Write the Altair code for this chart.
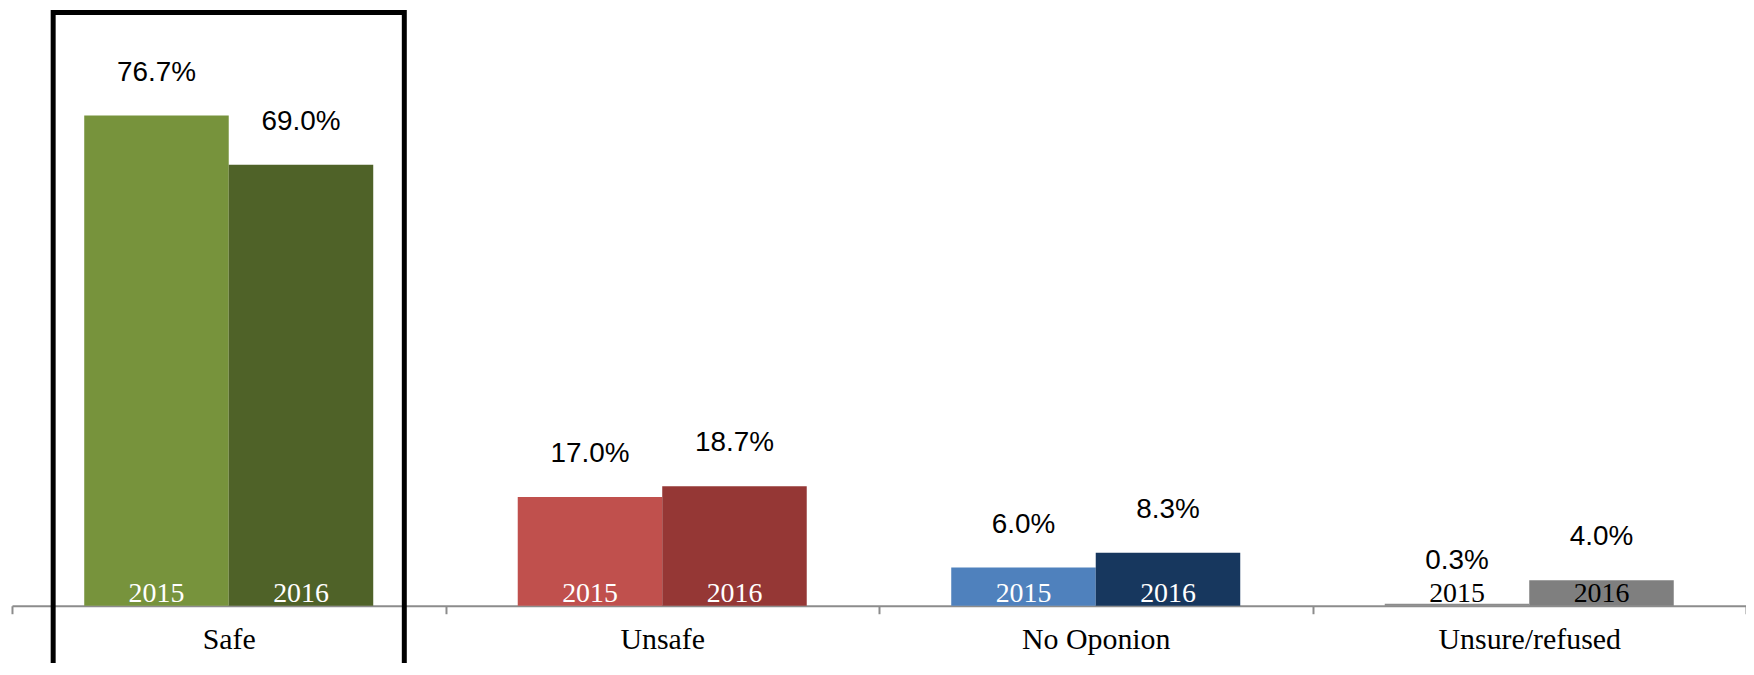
import altair as alt
import pandas as pd

categories = ["Safe", "Unsafe", "No Oponion", "Unsure/refused"]
years = ["2015", "2016"]
values_2015 = [76.7, 17.0, 6.0, 0.3]
values_2016 = [69.0, 18.7, 8.3, 4.0]
colors_2015 = ["#77933c", "#c0504d", "#4f81bd", "#8c8c8c"]
colors_2016 = ["#4f6228", "#953735", "#17375e", "#7f7f7f"]
highlighted = ["Safe"]

rows = []
keys, colors = [], []
for i, c in enumerate(categories):
    for y, vals, cols in ((years[0], values_2015, colors_2015), (years[1], values_2016, colors_2016)):
        key = f"{c} {y}"
        rows.append({"category": c, "year": y, "value": vals[i], "key": key,
                     "label": f"{vals[i]:.1f}%", "zero": 0})
        keys.append(key)
        colors.append(cols[i])
df = pd.DataFrame(rows)
box_df = pd.DataFrame({"category": highlighted})

W, H = 1742, 578

x_enc = alt.X("category:N", sort=categories,
              scale=alt.Scale(paddingInner=0, paddingOuter=0),
              axis=alt.Axis(title=None, labelAngle=0, labelFont="Liberation Serif",
                            labelFontSize=30, labelColor="black", labelLimit=0,
                            domainColor="#8c8c8c", domainWidth=2,
                            tickColor="#8c8c8c", tickWidth=2, tickSize=8,
                            tickBand="extent", labelPadding=11))
xo_enc = alt.XOffset("year:N", sort=years, scale=alt.Scale(paddingOuter=0.5, paddingInner=0))
y_scale = alt.Scale(domain=[0, 90])

bars = alt.Chart(df).mark_bar().encode(
    x=x_enc, xOffset=xo_enc,
    y=alt.Y("value:Q", scale=y_scale, axis=None),
    color=alt.Color("key:N", scale=alt.Scale(domain=keys, range=colors), legend=None),
)

pct = alt.Chart(df).mark_text(font="Liberation Sans", fontSize=28, color="black",
                               baseline="middle", dy=-43).encode(
    x=x_enc, xOffset=xo_enc,
    y=alt.Y("value:Q", scale=y_scale, axis=None),
    text="label:N",
)

yrs = alt.Chart(df).mark_text(font="Liberation Serif", fontSize=28,
                               baseline="alphabetic", dy=-4).encode(
    x=x_enc, xOffset=xo_enc,
    y=alt.Y("zero:Q", scale=y_scale, axis=None),
    text="year:N",
    color=alt.condition(alt.datum.category == "Unsure/refused",
                        alt.value("black"), alt.value("white")),
)

box = alt.Chart(box_df).mark_bar(filled=False, stroke="black", strokeWidth=5,
                                 width=alt.RelativeBandSize(0.81)).encode(
    x=x_enc,
    y=alt.value(-18),
    y2=alt.value(H + 120),
)

chart = alt.layer(bars, pct, yrs, box).properties(
    width=W, height=H,
    autosize=alt.AutoSizeParams(type="none"),
    padding={"left": 4, "top": 21, "right": 0, "bottom": 56},
).configure_view(strokeWidth=0)

chart.save("out.html", embed_options={"renderer": "svg", "actions": False})
